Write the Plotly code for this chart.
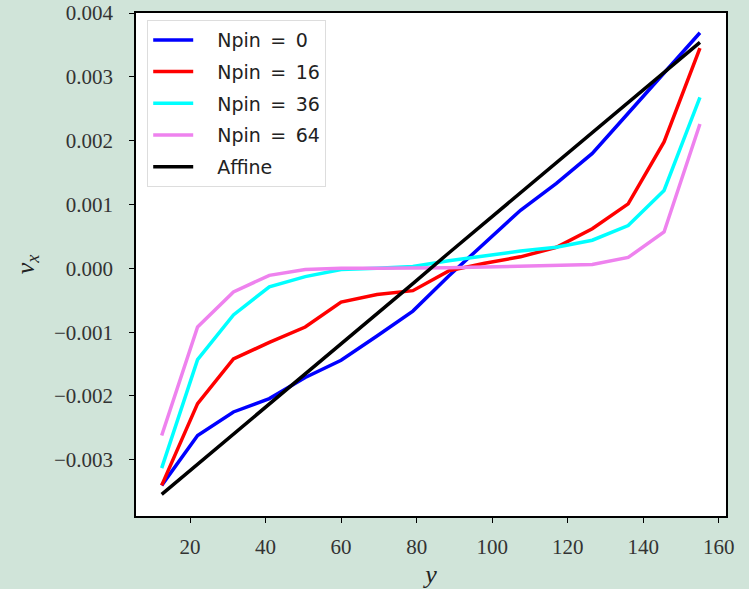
import plotly.graph_objects as go

y_pos = [12.5, 22.0, 31.5, 41.0, 50.5, 60.0, 69.5, 79.0, 88.5, 98.0, 107.5, 117.0, 126.5, 136.0, 145.5, 155.0]

vx_npin0 = [-0.00340, -0.00262, -0.00225, -0.00204, -0.00171, -0.00144, -0.00106, -0.00067,
            -0.00012, 0.00040, 0.00091, 0.00133, 0.00180, 0.00243, 0.00305, 0.00369]
vx_npin16 = [-0.00340, -0.00212, -0.00142, -0.00116, -0.00092, -0.00053, -0.00041, -0.00035,
             -0.00004, 0.00008, 0.00018, 0.00033, 0.00062, 0.00101, 0.00198, 0.00345]
vx_npin36 = [-0.00313, -0.00143, -0.00073, -0.00029, -0.00013, -0.00002, 0.00000, 0.00003,
             0.00012, 0.00020, 0.00027, 0.00033, 0.00044, 0.00067, 0.00122, 0.00268]
vx_npin64 = [-0.00262, -0.00092, -0.00037, -0.00011, -0.00002, 0.00000, 0.00000, 0.00000,
             0.00001, 0.00002, 0.00003, 0.00004, 0.00006, 0.00017, 0.00057, 0.00226]
vx_affine = [-0.00354, -0.00307, -0.00260, -0.00212, -0.00165, -0.00118, -0.00071, -0.00024,
             0.00024, 0.00071, 0.00118, 0.00165, 0.00212, 0.00260, 0.00307, 0.00354]

series_names = ["Npin = 0", "Npin = 16", "Npin = 36", "Npin = 64", "Affine"]
series_values = [vx_npin0, vx_npin16, vx_npin36, vx_npin64, vx_affine]
series_colors = ["#0000ff", "#ff0000", "#00ffff", "#ee82ee", "#000000"]

x_ticks = [20, 40, 60, 80, 100, 120, 140, 160]
y_ticks = [-0.003, -0.002, -0.001, 0.0, 0.001, 0.002, 0.003, 0.004]

fig = go.Figure()
for i, (name, vals, col) in enumerate(zip(series_names, series_values, series_colors)):
    label = "\u2003" + name.replace(" = ", "\u2002=\u2002")
    fig.add_trace(go.Scatter(x=y_pos, y=vals, mode="lines", name=label,
                             legendgroup=f"g{i}",
                             line=dict(color=col, width=3.5)))

serif = "Liberation Serif, DejaVu Serif, serif"
fig.update_layout(
    width=749, height=589,
    paper_bgcolor="#d0e4d9",
    plot_bgcolor="#ffffff",
    margin=dict(l=136, r=23, t=13, b=73),
    showlegend=True,
    legend=dict(x=0.019, y=0.986, xanchor="left", yanchor="top",
                bgcolor="#ffffff", bordercolor="#dddddd", borderwidth=1,
                font=dict(family="DejaVu Sans, sans-serif", size=19, color="#222222"),
                tracegroupgap=4, traceorder="grouped", itemwidth=40),
    xaxis=dict(range=[5.7, 161.9], tickvals=x_ticks, ticks="outside", ticklen=5,
               tickcolor="#000000", showgrid=False, zeroline=False, automargin=False,
               showline=True, linecolor="#000000", linewidth=1.5, mirror=True,
               ticklabelstandoff=6,
               tickfont=dict(family=serif, size=21, color="#333333"),
               title=dict(text="<i>y</i>", font=dict(family=serif, size=26, color="#222222"),
                          standoff=14)),
    yaxis=dict(range=[-0.00388, 0.00400], tickvals=y_ticks, tickformat=".3f",
               ticks="outside", ticklen=5, automargin=False,
               tickcolor="#000000", showgrid=False, zeroline=False,
               showline=True, linecolor="#000000", linewidth=1.5, mirror=True,
               ticklabelstandoff=12,
               tickfont=dict(family=serif, size=21, color="#333333"),
               title=dict(text="<i>v<sub>x</sub></i>", font=dict(family=serif, size=26, color="#222222"),
                          standoff=12)),
)

fig.write_html("out.html")
